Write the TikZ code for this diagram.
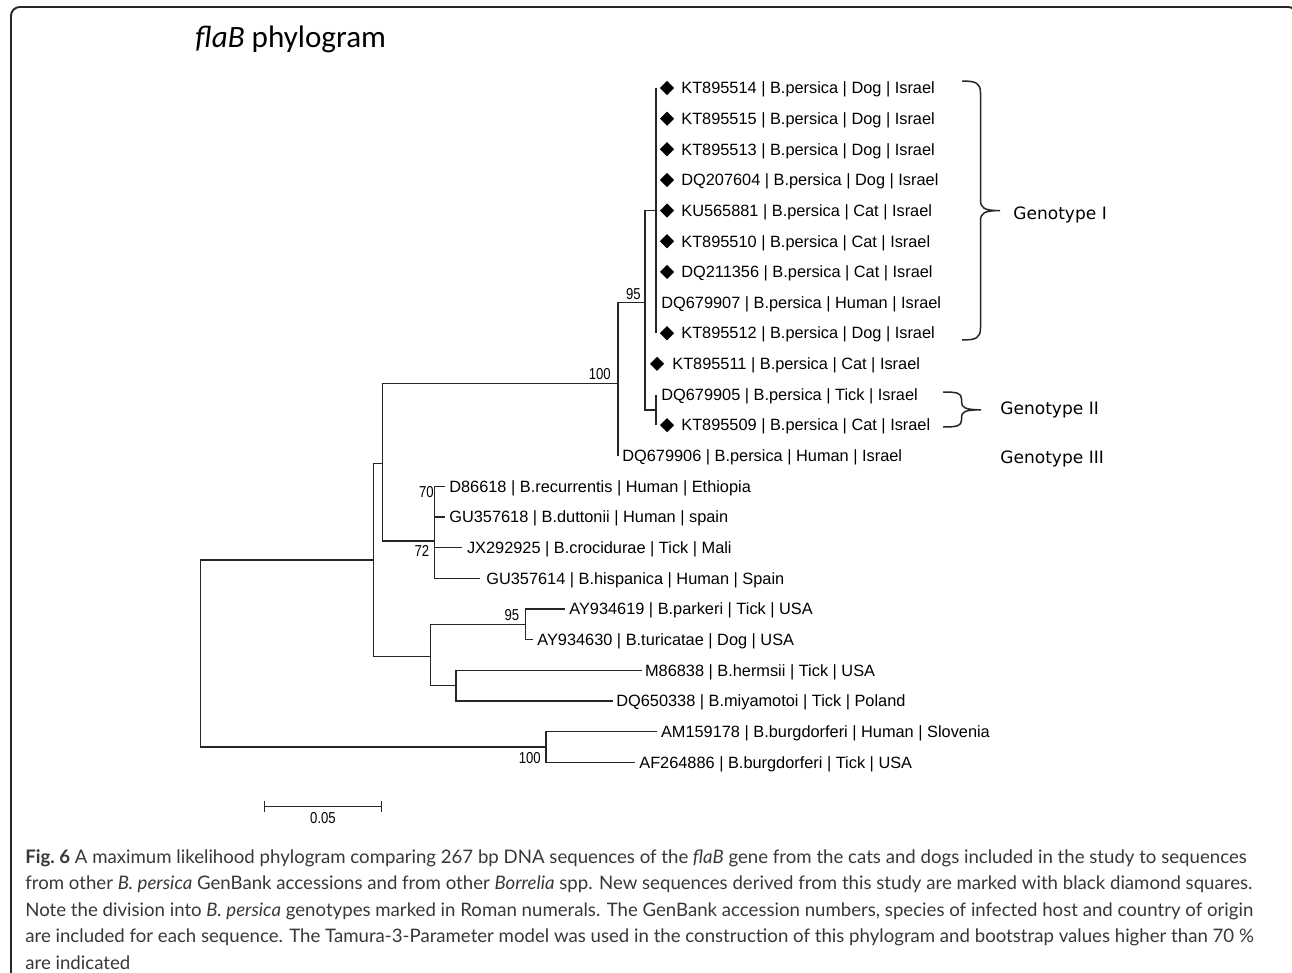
\documentclass[tikz,border=0pt]{standalone}
\usepackage{fontspec}
\usepackage{tikz}
\usetikzlibrary{
  calc,
  positioning,
  shapes.geometric,
  arrows.meta
}
\setmainfont{Liberation Sans}
\newfontfamily\treefont{Liberation Sans}
\newfontfamily\numfont[FakeStretch=0.83]{Liberation Sans}
\newfontfamily\titlefont{Carlito}
\newfontfamily\genofont{DejaVu Sans}
\newfontfamily\capfont{Lato}

\begin{document}
\begin{tikzpicture}[x=0.02cm, y=-0.02cm,
    branch/.style={line width=0.85pt, black!85},
    leaf/.style={anchor=base west, inner sep=0, yshift=-3.3pt,
      font=\treefont\fontsize{9.3}{11}\selectfont},
    gem/.style={diamond, fill=black, inner sep=0,
      minimum width=0.29cm, minimum height=0.29cm},
    boot/.style={anchor=south east, inner sep=0,
      font=\numfont\fontsize{9}{10}\selectfont},
    geno/.style={anchor=base west, inner sep=0,
      font=\genofont\fontsize{9.7}{12}\selectfont},
    brk/.style={line width=0.85pt, black!85}]
            \useasboundingbox (0,0) rectangle (1292,973);
            \fill[white] (0,0) rectangle (1292,973);
            \clip (0,0) rectangle (1292,973);

            \draw[line width=1.1pt, black!85, rounded corners=5pt]
            (11,990) -- (11,7) -- (1297,7) -- (1297,990);

            \node[anchor=base west, inner sep=0,
            font=\titlefont\fontsize{17.7}{21}\selectfont]
            (title) at (195,48) {\textit{flaB} phylogram};

            % leaf tips
            \coordinate (t0) at (656, 88);
            \coordinate (t1) at (656, 118.65);
            \coordinate (t2) at (656, 149.3);
            \coordinate (t3) at (656, 179.95);
            \coordinate (t4) at (656, 210.6);
            \coordinate (t5) at (656, 241.25);
            \coordinate (t6) at (656, 271.9);
            \coordinate (t7) at (656, 302.55);
            \coordinate (t8) at (656, 333.2);
            \coordinate (t9) at (645, 363.85);
            \coordinate (t10) at (656, 394.5);
            \coordinate (t11) at (656, 425.15);
            \coordinate (t12) at (618, 455.8);
            \coordinate (t13) at (445, 486.45);
            \coordinate (t14) at (445, 517.1);
            \coordinate (t15) at (461.7, 547.75);
            \coordinate (t16) at (480, 578.4);
            \coordinate (t17) at (565, 609.05);
            \coordinate (t18) at (533, 639.7);
            \coordinate (t19) at (641.7, 670.35);
            \coordinate (t20) at (613, 701);
            \coordinate (t21) at (656.7, 731.65);
            \coordinate (t22) at (635, 762.3);

            % inner nodes
            \coordinate (gI) at (656, 210.6);
            \coordinate (gII) at (656, 409.8);
            \coordinate (n95) at (645, 302.5);
            \coordinate (n100) at (618, 383.5);
            \coordinate (nA) at (382.3, 463.3);
            \coordinate (n72) at (434.3, 541);
            \coordinate (n70) at (434.3, 501.8);
            \coordinate (nB) at (373.3, 560);
            \coordinate (nC) at (430.7, 656.5);
            \coordinate (n95b) at (525.7, 624.4);
            \coordinate (nD) at (456, 685.7);
            \coordinate (n100b) at (546, 747);
            \coordinate (root) at (200.7, 653.5);

            \draw[branch] (gI) |- (t0) (gI) |- (t8);
            \draw[branch] (gII) |- (t10) (gII) |- (t11);
            \draw[branch] (n95) |- (gI) (n95) |- (t9) (n95) |- (gII);
            \draw[branch] (n100) |- (n95) (n100) |- (t12);
            \draw[branch] (n70) |- (t13) (n70) |- (t14);
            \draw[branch] (n72) |- (n70) (n72) |- (t15) (n72) |- (t16);
            \draw[branch] (nA) |- (n100) (nA) |- (n72);
            \draw[branch] (n95b) |- (t17) (n95b) |- (t18);
            \draw[branch] (nD) |- (t19) (nD) |- (t20);
            \draw[branch] (nC) |- (n95b) (nC) |- (nD);
            \draw[branch] (nB) |- (nA) (nB) |- (nC);
            \draw[branch] (n100b) |- (t21) (n100b) |- (t22);
            \draw[branch] (root) |- (nB) (root) |- (n100b);

            % new sequences
            \node[gem] (m0) at ($(t0)+(11,0)$) {};
            \node[gem] (m1) at ($(t1)+(11,0)$) {};
            \node[gem] (m2) at ($(t2)+(11,0)$) {};
            \node[gem] (m3) at ($(t3)+(11,0)$) {};
            \node[gem] (m4) at ($(t4)+(11,0)$) {};
            \node[gem] (m5) at ($(t5)+(11,0)$) {};
            \node[gem] (m6) at ($(t6)+(11,0)$) {};
            \node[gem] (m8) at ($(t8)+(11,0)$) {};
            \node[gem] (m9) at ($(t9)+(12,0)$) {};
            \node[gem] (m11) at ($(t11)+(11,0)$) {};

            \node[leaf] (l0) at ($(t0)+(25,0)$) {KT895514 | B.persica | Dog | Israel};
            \node[leaf] (l1) at ($(t1)+(25,0)$) {KT895515 | B.persica | Dog | Israel};
            \node[leaf] (l2) at ($(t2)+(25,0)$) {KT895513 | B.persica | Dog | Israel};
            \node[leaf] (l3) at ($(t3)+(25,0)$) {DQ207604 | B.persica | Dog | Israel};
            \node[leaf] (l4) at ($(t4)+(25,0)$) {KU565881 | B.persica | Cat | Israel};
            \node[leaf] (l5) at ($(t5)+(25,0)$) {KT895510 | B.persica | Cat | Israel};
            \node[leaf] (l6) at ($(t6)+(25,0)$) {DQ211356 | B.persica | Cat | Israel};
            \node[leaf] (l7) at ($(t7)+(5,0)$) {DQ679907 | B.persica | Human | Israel};
            \node[leaf] (l8) at ($(t8)+(25,0)$) {KT895512 | B.persica | Dog | Israel};
            \node[leaf] (l9) at ($(t9)+(27,0)$) {KT895511 | B.persica | Cat | Israel};
            \node[leaf] (l10) at ($(t10)+(5,0)$) {DQ679905 | B.persica | Tick | Israel};
            \node[leaf] (l11) at ($(t11)+(25,0)$) {KT895509 | B.persica | Cat | Israel};
            \node[leaf] (l12) at ($(t12)+(4,0)$) {DQ679906 | B.persica | Human | Israel};
            \node[leaf] (l13) at ($(t13)+(4,0)$) {D86618 | B.recurrentis | Human | Ethiopia};
            \node[leaf] (l14) at ($(t14)+(4,0)$) {GU357618 | B.duttonii | Human | spain};
            \node[leaf] (l15) at ($(t15)+(5,0)$) {JX292925 | B.crocidurae | Tick | Mali};
            \node[leaf] (l16) at ($(t16)+(6,0)$) {GU357614 | B.hispanica | Human | Spain};
            \node[leaf] (l17) at ($(t17)+(4,0)$) {AY934619 | B.parkeri | Tick | USA};
            \node[leaf] (l18) at ($(t18)+(4,0)$) {AY934630 | B.turicatae | Dog | USA};
            \node[leaf] (l19) at ($(t19)+(3,0)$) {M86838 | B.hermsii | Tick | USA};
            \node[leaf] (l20) at ($(t20)+(3,0)$) {DQ650338 | B.miyamotoi | Tick | Poland};
            \node[leaf] (l21) at ($(t21)+(4,0)$) {AM159178 | B.burgdorferi | Human | Slovenia};
            \node[leaf] (l22) at ($(t22)+(4,0)$) {AF264886 | B.burgdorferi | Tick | USA};

            \node[boot] (b95) at (641,300) {95};
            \node[boot] (b100) at (611,380) {100};
            \node[boot] (b70) at (434,498) {70};
            \node[boot] (b72) at (429.5,557) {72};
            \node[boot] (b95b) at (519.5,621) {95};
            \node[boot] (b100b) at (541,764) {100};

            % genotype braces
            \draw[brk] (962,81) .. controls (976,81) and (980.5,83) .. (980.5,93)
            -- (980.5,200) .. controls (980.5,208) and (984,210.6) .. (1000,210.6)
            .. controls (984,210.6) and (980.5,213) .. (980.5,221)
            -- (980.5,328) .. controls (980.5,338) and (976,340) .. (962,340);
            \node[geno] (gtI) at (1013,220) {Genotype I};

            \draw[brk] (943,392) .. controls (957,392) and (961.5,393) .. (961.5,399)
            -- (961.5,402) .. controls (961.5,407.5) and (965,409.8) .. (981,409.8)
            .. controls (965,409.8) and (961.5,412) .. (961.5,417)
            -- (961.5,420) .. controls (961.5,426) and (957,427) .. (943,427);
            \node[geno] (gtII) at (1000,414) {Genotype II};
            \node[geno] (gtIII) at (1000,463) {Genotype III};

            % scale bar
            \coordinate (s0) at (264,806.5);
            \coordinate (s1) at (382,806.5);
            \draw[branch, {Bar[width=0.22cm]}-{Bar[width=0.22cm]}] (s0) -- (s1);
            \node[inner sep=0, font=\numfont\fontsize{9}{10}\selectfont]
            (sbl) at (323,818) {0.05};

            \node[anchor=north west, inner sep=0, align=left,
            font=\capfont\fontsize{10.6}{15.1}\selectfont, text=black!78]
            (cap) at (25,849) {\frenchspacing
              \textbf{Fig. 6} A maximum likelihood phylogram comparing 267 bp DNA sequences of the \textit{flaB} gene from the cats and dogs included in the study to sequences\\
              from other \textit{B. persica} GenBank accessions and from other \textit{Borrelia} spp. New sequences derived from this study are marked with black diamond squares.\\
              Note the division into \textit{B. persica} genotypes marked in Roman numerals. The GenBank accession numbers, species of infected host and country of origin\\
              are included for each sequence. The Tamura-3-Parameter model was used in the construction of this phylogram and bootstrap values higher than 70~\%\\
              are indicated};
\end{tikzpicture}
\end{document}
